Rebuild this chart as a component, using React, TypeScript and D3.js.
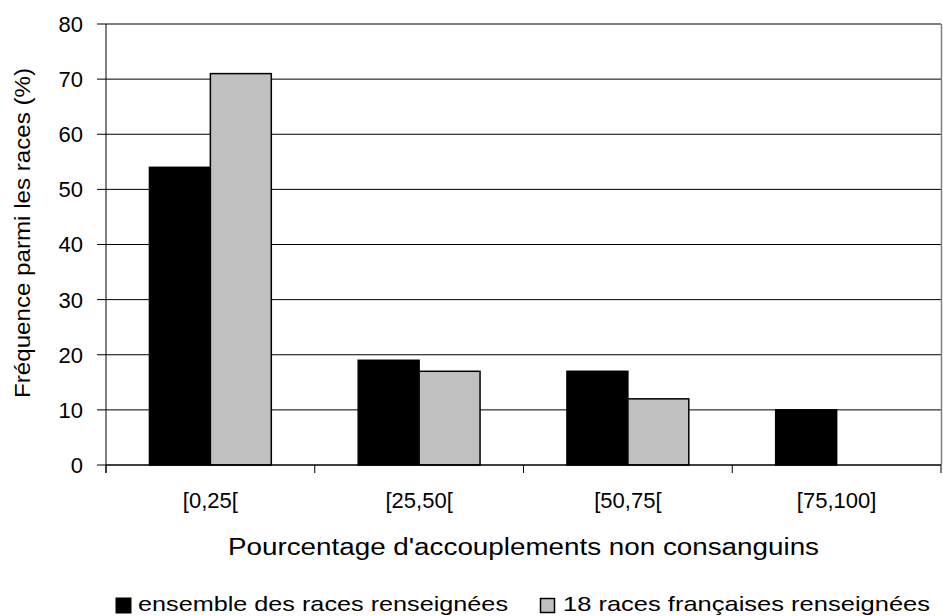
import React from "react";
import * as d3 from "d3";

const categories = ["[0,25[", "[25,50[", "[50,75[", "[75,100]"];
const seriesNames = ["ensemble des races renseignées", "18 races françaises renseignées"];
const seriesAll = [54, 19, 17, 10];
const seriesFr: (number | null)[] = [71, 17, 12, null];
const yTicks = [0, 10, 20, 30, 40, 50, 60, 70, 80];
const xTitle = "Pourcentage d'accouplements non consanguins";
const yTitle = "Fréquence parmi les races (%)";

const W = 943;
const H = 616;
const left = 106;
const right = 941;
const top = 24;
const bottom = 465;
const font = "'Liberation Sans', Arial, sans-serif";

export default function App() {
  const x0 = d3.scaleBand<string>().domain(categories).range([left, right]).paddingInner(0).paddingOuter(0);
  const x1 = d3
    .scaleBand<string>()
    .domain(seriesNames)
    .range([0, x0.bandwidth()])
    .paddingInner(0)
    .paddingOuter(0.713);
  const y = d3.scaleLinear().domain([0, 80]).range([bottom, top]);
  const colors = ["#000000", "#c0c0c0"];
  const data = [seriesAll, seriesFr];
  const boundaries = categories.map((c) => x0(c)!).concat([right]);

  return (
    <svg width={W} height={H} style={{ position: "fixed", left: 0, top: 0, background: "#fff" }} fontFamily={font}>
      <rect x={0} y={0} width={W} height={H} fill="#fff" />
      {/* gridlines */}
      {yTicks.filter((t) => t > 0).map((t) => (
        <line key={"g" + t} x1={left} x2={right} y1={y(t)} y2={y(t)} stroke="#000" strokeWidth={1} />
      ))}
      {/* right border */}
      <line x1={right + 0.5} x2={right + 0.5} y1={top} y2={bottom} stroke="#808080" strokeWidth={1.5} />
      {/* bars */}
      {categories.map((c, i) => (
        <g key={c}>
          {data.map((s, j) => {
            const v = s[i];
            if (v == null) return null;
            const bx = x0(c)! + x1(seriesNames[j])!;
            return (
              <rect
                key={j}
                x={bx}
                y={y(v)}
                width={x1.bandwidth()}
                height={y(0) - y(v)}
                fill={colors[j]}
                stroke="#000"
                strokeWidth={1.5}
              />
            );
          })}
        </g>
      ))}
      {/* axes */}
      <line x1={left} x2={left} y1={top} y2={bottom + 8} stroke="#000" strokeWidth={1} />
      <line x1={left} x2={right} y1={bottom} y2={bottom} stroke="#000" strokeWidth={1.5} />
      {yTicks.map((t) => (
        <g key={"t" + t}>
          <line x1={left - 9} x2={left} y1={y(t)} y2={y(t)} stroke="#000" strokeWidth={1} />
          <text x={83} y={y(t)} dy="0.36em" textAnchor="end" fontSize={22} fill="#000">
            {t}
          </text>
        </g>
      ))}
      {boundaries.map((b, i) => (
        <line key={"xt" + i} x1={b} x2={b} y1={bottom} y2={bottom + 8} stroke="#000" strokeWidth={1} />
      ))}
      {categories.map((c) => (
        <text key={"xl" + c} x={x0(c)! + x0.bandwidth() / 2} y={508} textAnchor="middle" fontSize={22} fill="#000">
          {c}
        </text>
      ))}
      <text
        x={(left + right) / 2}
        y={555}
        textAnchor="middle"
        fontSize={23}
        textLength={591}
        lengthAdjust="spacingAndGlyphs"
        fill="#000"
      >
        {xTitle}
      </text>
      <text
        transform={`translate(30,233) rotate(-90)`}
        textAnchor="middle"
        fontSize={22}
        textLength={330}
        lengthAdjust="spacingAndGlyphs"
        fill="#000"
      >
        {yTitle}
      </text>
      {/* legend */}
      <rect x={116} y={598} width={15} height={15} fill="#000" stroke="#000" strokeWidth={1} />
      <text x={138} y={611} fontSize={21} textLength={370} lengthAdjust="spacingAndGlyphs" fill="#000">
        {seriesNames[0]}
      </text>
      <rect x={540.5} y={598.5} width={14} height={14} fill="#c0c0c0" stroke="#000" strokeWidth={1.5} />
      <text x={563} y={611} fontSize={21} textLength={367} lengthAdjust="spacingAndGlyphs" fill="#000">
        {seriesNames[1]}
      </text>
    </svg>
  );
}
